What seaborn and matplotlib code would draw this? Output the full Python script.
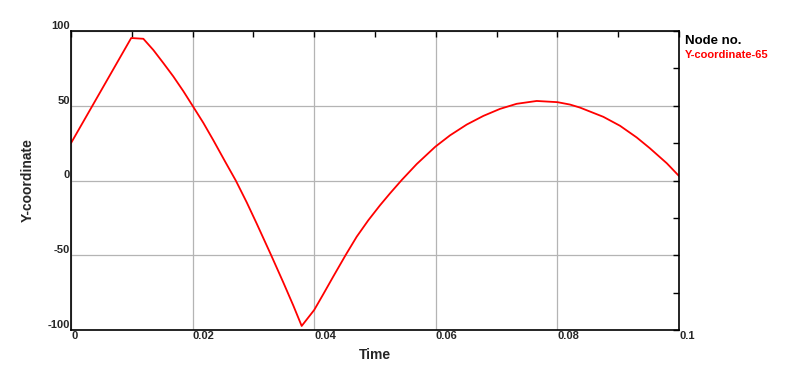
import matplotlib
matplotlib.use("Agg")
import matplotlib.pyplot as plt
import seaborn as sns
from matplotlib.ticker import MultipleLocator

# values
time = [0.0, 0.0099, 0.0119, 0.01354, 0.01518, 0.01683, 0.01847, 0.01995,
        0.02176, 0.0234, 0.02533, 0.0271, 0.0289, 0.03054, 0.0329, 0.03492,
        0.03656, 0.03794, 0.0400, 0.0415, 0.04314, 0.04518, 0.04699, 0.0489,
        0.05082, 0.05247, 0.05439, 0.05686, 0.05992, 0.06234, 0.06508,
        0.06782, 0.07056, 0.0733, 0.0766, 0.0800, 0.08207, 0.0837, 0.08755,
        0.0903, 0.09304, 0.0952, 0.0980, 0.1000]
y_coord = [25.0, 95.3, 94.8, 87.3, 78.6, 69.6, 59.8, 50.3,
           38.6, 27.0, 12.8, 0.0, -14.6, -28.8, -49.8, -68.2,
           -83.6, -97.3, -86.6, -76.0, -64.2, -49.8, -37.6, -26.6,
           -16.6, -8.6, 0.3, 11.0, 22.6, 30.2, 37.4,
           43.2, 47.9, 51.3, 53.2, 52.4, 50.8, 48.8, 42.6,
           36.6, 28.8, 21.6, 11.5, 3.0]

x_ticks = [0, 0.02, 0.04, 0.06, 0.08, 0.1]
x_tick_labels = ["0", "0.02", "0.04", "0.06", "0.08", "0.1"]
y_ticks = [-100, -50, 0, 50, 100]
y_tick_labels = ["-100", "-50", "0", "50", "100"]

sns.set_style("white")
plt.rcParams['font.family'] = ['Liberation Sans', 'DejaVu Sans']

fig = plt.figure(figsize=(7.97, 3.79), dpi=100)
ax = fig.add_axes([71 / 797, 1 - 330 / 379, 608 / 797, 299 / 379])

sns.lineplot(x=time, y=y_coord, ax=ax, color='#ff0000', linewidth=1.3,
             sort=False, estimator=None)

ax.set_xlim(0, 0.1)
ax.set_ylim(-100, 100)
ax.set_xticks(x_ticks)
ax.set_xticklabels(x_tick_labels)
ax.set_yticks(y_ticks)
ax.set_yticklabels(y_tick_labels)
ax.xaxis.set_minor_locator(MultipleLocator(0.01))
ax.yaxis.set_minor_locator(MultipleLocator(25))

ax.grid(True, which='major', color='#b4b4b4', linewidth=0.9)
ax.tick_params(which='both', direction='in', length=4.5, width=1, color='black',
               top=True, right=True, labelsize=8, pad=1)
for lbl in ax.get_xticklabels():
    lbl.set_ha('left')
    lbl.set_fontweight('bold')
for lbl in ax.get_yticklabels():
    lbl.set_va('bottom')
    lbl.set_fontweight('bold')

for side in ax.spines.values():
    side.set_color('black')
    side.set_linewidth(1.2)

ax.set_xlabel('Time', fontsize=10, fontweight='bold', labelpad=5)
ax.set_ylabel('Y-coordinate', fontsize=10, fontweight='bold', labelpad=9)

fig.text(685 / 797, 1 - 44 / 379, 'Node no.', fontsize=9.5, fontweight='bold',
         color='black', ha='left', va='baseline')
fig.text(685 / 797, 1 - 58 / 379, 'Y-coordinate-65', fontsize=8, fontweight='bold',
         color='#ff0000', ha='left', va='baseline')

fig.savefig('out.png', dpi=100)
